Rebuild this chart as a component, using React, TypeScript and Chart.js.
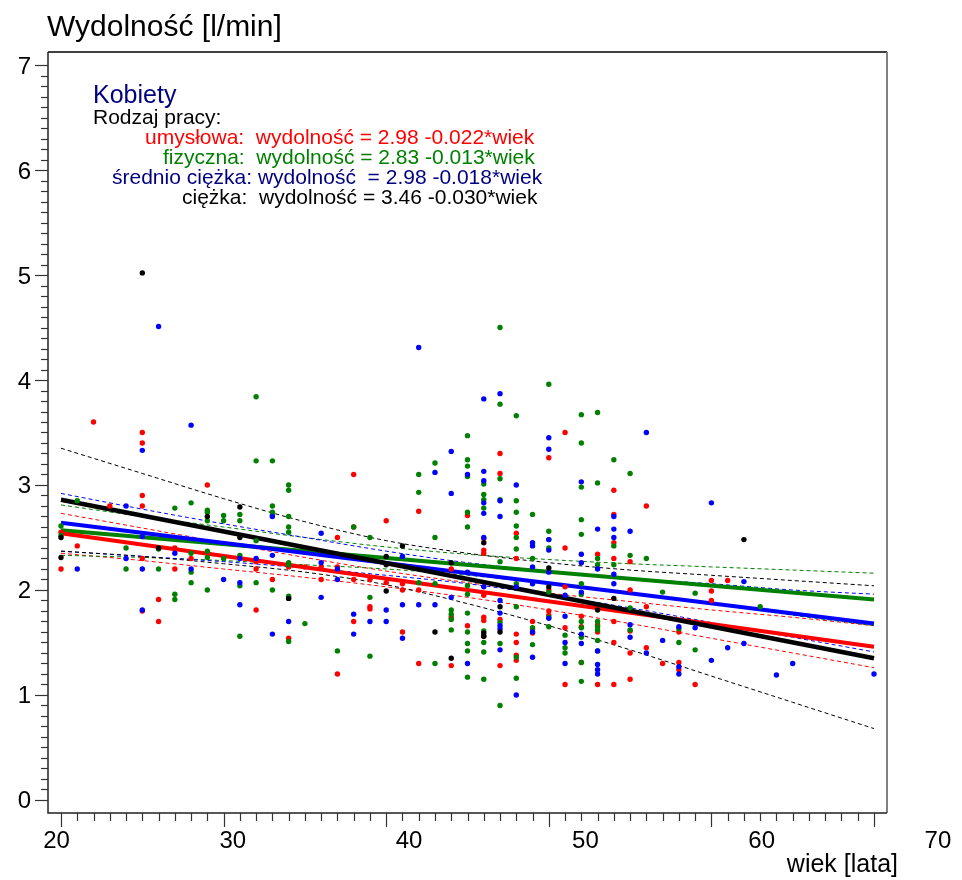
import { useEffect, useRef } from "react";
import { Chart, registerables } from "chart.js";

Chart.register(...registerables);

const FONT = "'Liberation Sans', Arial, Helvetica, sans-serif";

// ---------- data ----------
const X_TICKS = [20, 30, 40, 50, 60, 70];
const Y_TICKS = [0, 1, 2, 3, 4, 5, 6, 7];
const FIT_AGES = [20, 70];
const BAND_AGES = [20, 25, 30, 35, 40, 45, 50, 55, 60, 65, 70];

// [wiek, wydolność]
const umyslowaPts: [number, number][] = [
  [22, 3.6], [25, 3.5], [25, 3.4], [29, 3.0], [25, 2.9], [23, 2.8], [25, 2.8], [20, 2.55], [21, 2.42], [27, 2.4],
  [28, 2.3], [25, 2.3], [32, 2.27], [20, 2.2], [27, 2.2], [32, 2.2], [26, 1.91], [25, 1.8], [32, 1.81], [26, 1.7],
  [38, 3.1], [42, 2.75], [40, 2.66], [38, 2.6], [37, 2.5], [34, 2.22], [35, 2.22], [36, 2.22], [37, 2.22], [33, 2.1],
  [36, 2.1], [38, 2.1], [39, 2.1], [40, 2.07], [41, 2.06], [42, 2.0], [41, 2.0], [39, 1.84], [39, 1.82], [44, 1.74],
  [38, 1.7], [41, 1.6], [34, 1.54], [42, 1.3], [44, 1.28], [37, 1.2], [44, 2.2],
  [45, 2.71], [45, 1.66],
  [46, 2.49], [46, 2.38], [46, 2.35], [46, 1.95], [46, 1.74], [46, 1.71], [46, 1.56],
  [47, 3.3], [47, 3.11], [47, 1.72], [47, 1.28],
  [48, 2.54], [48, 2.3], [48, 1.58], [48, 1.5], [48, 1.38], [48, 1.33],
  [49, 1.7], [49, 1.63], [49, 1.59],
  [50, 3.26], [50, 2.0], [50, 1.8], [50, 1.76],
  [51, 3.5], [51, 2.4], [51, 2.03], [51, 1.64], [51, 1.1],
  [52, 1.75], [52, 1.65], [52, 1.31],
  [53, 2.34], [53, 1.67], [53, 1.6], [53, 1.1],
  [54, 2.95], [54, 2.72], [54, 2.45], [54, 2.3], [54, 1.7], [54, 1.5], [54, 1.1],
  [55, 2.27], [55, 2.0], [55, 1.61], [55, 1.4], [55, 1.15],
  [56, 2.8], [56, 1.84], [56, 1.45],
  [57, 1.3],
  [58, 1.6], [58, 1.31], [58, 1.24], [59, 1.1], [60, 2.09], [60, 1.99], [60, 1.9], [61, 2.09],
];

const fizycznaPts: [number, number][] = [
  [32, 3.84], [32, 3.23], [28, 2.83], [27, 2.78], [29, 2.76], [29, 2.74], [30, 2.71], [31, 2.72], [29, 2.66], [30, 2.66],
  [31, 2.66], [21, 2.85], [20, 2.61], [20, 2.52], [32, 2.47], [24, 2.4], [26, 2.39], [28, 2.35], [29, 2.37], [29, 2.31],
  [30, 2.3], [31, 2.33], [24, 2.2], [26, 2.2], [28, 2.17], [28, 2.07], [31, 2.04], [32, 2.07], [29, 2.0], [27, 1.96],
  [27, 1.91], [31, 1.56],
  [33, 3.23], [43, 3.21], [42, 3.1], [42, 2.93], [34, 3.0], [34, 2.95], [33, 2.8], [33, 2.74], [33, 2.71], [34, 2.7],
  [34, 2.6], [34, 2.55], [38, 2.6], [39, 2.5], [43, 2.5], [34, 2.26], [34, 2.24], [41, 2.32], [42, 2.07], [43, 2.06],
  [33, 2.0], [34, 1.94], [34, 1.92], [39, 1.93], [44, 1.81], [44, 1.77], [44, 1.72], [35, 1.68], [44, 1.62], [34, 1.51],
  [37, 1.42], [39, 1.37], [43, 1.3],
  [45, 3.47], [45, 3.24], [45, 3.18], [45, 3.08], [45, 2.74], [45, 2.6], [45, 2.04], [45, 1.96], [45, 1.78], [45, 1.6],
  [45, 1.49], [45, 1.42], [45, 1.17],
  [46, 3.01], [46, 2.91], [46, 2.86], [46, 2.78], [46, 1.61], [46, 1.5], [46, 1.41], [46, 1.15],
  [47, 4.5], [47, 3.77], [47, 3.06], [47, 2.86], [47, 2.27], [47, 1.69], [47, 1.49], [47, 0.9],
  [48, 3.66], [48, 2.85], [48, 2.74], [48, 2.61], [48, 2.5], [48, 2.39], [48, 2.06], [48, 1.84], [48, 1.36], [48, 1.16],
  [49, 2.72], [49, 2.3], [49, 1.64], [49, 1.48],
  [50, 3.96], [50, 2.56], [50, 2.48], [50, 2.4], [50, 1.98], [50, 1.74], [50, 1.65],
  [51, 1.57], [51, 1.45], [51, 1.4],
  [52, 3.67], [52, 3.4], [52, 2.98], [52, 2.67], [52, 2.53], [52, 2.06], [52, 1.96], [52, 1.7], [52, 1.64], [52, 1.55],
  [52, 1.31], [52, 1.13],
  [53, 3.69], [53, 3.02], [53, 2.3], [53, 2.24], [53, 1.7], [53, 1.65], [53, 1.62], [53, 1.52], [53, 1.42],
  [54, 3.24], [54, 2.42], [54, 2.24],
  [55, 3.11], [55, 2.33], [55, 1.83], [55, 1.62],
  [56, 2.3], [57, 1.98],
  [59, 1.97], [59, 1.43], [63, 1.84], [58, 1.63], [58, 1.5],
];

const srednioPts: [number, number][] = [
  [26, 4.51], [28, 3.57], [25, 3.33], [24, 2.8], [25, 2.51], [27, 2.35], [31, 2.3], [24, 2.3], [32, 2.3], [21, 2.2],
  [25, 2.2], [28, 2.2], [30, 2.1], [31, 2.07], [31, 1.86], [25, 1.81],
  [42, 4.31], [44, 3.32], [43, 3.12], [44, 2.92], [33, 2.7], [36, 2.54], [33, 2.33], [37, 2.2], [37, 2.1], [36, 1.93],
  [44, 1.93], [40, 1.81], [38, 1.77], [41, 1.86], [42, 1.86], [43, 1.86], [34, 1.7], [39, 1.7], [40, 1.7], [33, 1.58],
  [38, 1.58], [41, 1.54], [36, 2.26], [41, 2.32],
  [45, 3.1], [45, 2.17], [45, 1.3],
  [46, 3.82], [46, 3.13], [46, 3.04], [46, 2.83], [46, 2.73], [46, 2.5], [46, 2.03],
  [47, 3.87], [47, 2.85], [47, 2.7], [47, 1.9], [47, 1.78], [47, 1.66], [47, 1.63], [47, 1.43],
  [48, 3.0], [48, 2.03], [48, 1.0],
  [49, 2.45], [49, 2.42], [49, 2.22], [49, 2.06], [49, 1.6], [49, 1.36],
  [50, 3.45], [50, 3.34], [50, 2.48], [50, 2.38], [50, 2.17], [50, 1.73],
  [51, 1.95], [51, 1.75], [51, 1.5], [51, 1.3],
  [52, 3.03], [52, 2.34], [52, 2.26], [52, 1.98], [52, 1.58], [52, 1.49],
  [53, 2.58], [53, 2.2], [53, 1.42], [53, 1.29], [53, 1.24], [53, 1.2],
  [54, 2.7], [54, 2.58], [54, 2.5], [54, 2.15], [54, 2.06],
  [55, 2.56], [55, 1.67], [55, 1.55],
  [56, 3.5], [56, 1.4], [57, 1.52],
  [60, 2.83], [60, 1.33], [62, 2.08], [62, 1.49], [58, 1.65], [58, 1.27], [58, 1.2], [59, 1.64], [61, 1.45], [65, 1.3],
  [64, 1.19], [70, 1.2],
];

const ciezkaPts: [number, number][] = [
  [25, 5.02], [29, 2.7], [31, 2.79], [20, 2.5], [31, 2.5], [26, 2.4], [20, 2.31], [41, 2.42], [40, 1.99], [34, 1.92],
  [43, 1.6], [44, 1.35], [40, 2.32], [40, 2.24], [44, 2.26], [46, 2.45], [47, 1.84], [47, 1.6], [46, 1.59], [46, 1.56],
  [50, 2.21], [50, 2.03], [53, 1.81], [54, 1.92], [62, 2.48],
];

// regression lines at FIT_AGES
const umyslowaFit = [2.54, 1.46];
const fizycznaFit = [2.57, 1.91];
const srednioFit = [2.64, 1.68];
const ciezkaFit = [2.86, 1.35];

// confidence bands at BAND_AGES
const umyslowaUpper = [2.73, 2.59, 2.45, 2.31, 2.18, 2.07, 1.97, 1.89, 1.81, 1.74, 1.66];
const umyslowaLower = [2.35, 2.28, 2.2, 2.12, 2.03, 1.93, 1.81, 1.68, 1.54, 1.4, 1.26];
const fizycznaUpper = [2.81, 2.7, 2.6, 2.5, 2.41, 2.34, 2.29, 2.25, 2.22, 2.19, 2.16];
const fizycznaLower = [2.33, 2.31, 2.28, 2.24, 2.2, 2.14, 2.06, 1.97, 1.87, 1.76, 1.66];
const srednioUpper = [2.92, 2.77, 2.63, 2.5, 2.37, 2.26, 2.18, 2.11, 2.06, 2.0, 1.96];
const srednioLower = [2.37, 2.32, 2.27, 2.21, 2.14, 2.06, 1.95, 1.83, 1.69, 1.55, 1.41];
const ciezkaUpper = [3.35, 3.11, 2.87, 2.65, 2.47, 2.35, 2.26, 2.19, 2.14, 2.09, 2.04];
const ciezkaLower = [2.37, 2.32, 2.25, 2.17, 2.05, 1.87, 1.66, 1.43, 1.18, 0.93, 0.68];

const TITLE = "Wydolność [l/min]";
const X_TITLE = "wiek [lata]";
const HEADER = "Kobiety";
const SUBHEADER = "Rodzaj pracy:";
const EQUATIONS = [
  "umysłowa:  wydolność = 2.98 -0.022*wiek",
  "fizyczna:  wydolność = 2.83 -0.013*wiek",
  "średnio ciężka: wydolność  = 2.98 -0.018*wiek",
  "ciężka:  wydolność = 3.46 -0.030*wiek",
];

const RED = "#ff0000";
const GREEN = "#008000";
const BLUE = "#0000ff";
const BLACK = "#000000";
const NAVY = "#000080";

// ---------- helpers ----------
const pts = (arr: [number, number][]) => arr.map(([x, y]) => ({ x, y }));
const series = (ages: number[], vals: number[]) => ages.map((x, i) => ({ x, y: vals[i] }));

const scatter = (label: string, arr: [number, number][], color: string) => ({
  type: "scatter" as const,
  label,
  data: pts(arr),
  backgroundColor: color,
  borderWidth: 0,
  pointRadius: 2.7,
  pointHoverRadius: 2.7,
  showLine: false,
});

const fitLine = (label: string, vals: number[], color: string, width: number) => ({
  type: "line" as const,
  label,
  data: series(FIT_AGES, vals),
  borderColor: color,
  borderWidth: width,
  pointRadius: 0,
  fill: false,
});

const band = (label: string, vals: number[], color: string) => ({
  type: "line" as const,
  label,
  data: series(BAND_AGES, vals),
  borderColor: color,
  borderWidth: 1,
  borderDash: [4, 3],
  pointRadius: 0,
  fill: false,
  cubicInterpolationMode: "monotone" as const,
});

const framePlugin = {
  id: "frame",
  afterDraw(chart: any) {
    const { ctx, chartArea: a, scales } = chart;
    const xs = scales.x;
    const ys = scales.y;
    const xl = scales.xLab;
    ctx.save();

    // frame
    ctx.lineCap = "butt";
    ctx.strokeStyle = "#000";
    ctx.lineWidth = 1.5;
    ctx.beginPath();
    ctx.moveTo(a.left, a.top);
    ctx.lineTo(a.right, a.top);
    ctx.stroke();
    ctx.strokeStyle = "#808080";
    ctx.lineWidth = 2;
    ctx.beginPath();
    ctx.moveTo(a.right, a.top);
    ctx.lineTo(a.right, a.bottom);
    ctx.stroke();

    ctx.strokeStyle = "#222";
    ctx.lineWidth = 1.5;
    ctx.beginPath();
    ctx.moveTo(a.left, a.top);
    ctx.lineTo(a.left, a.bottom);
    ctx.lineTo(a.right, a.bottom);
    ctx.stroke();

    // y ticks
    ctx.lineWidth = 1.2;
    ctx.strokeStyle = "#333";
    const yMin = Y_TICKS[0];
    const yMax = Y_TICKS[Y_TICKS.length - 1];
    for (let i = yMin * 10; i <= yMax * 10; i++) {
      const py = Math.round(ys.getPixelForValue(i / 10)) + 0.5;
      const len = i % 10 === 0 ? 13 : 7;
      ctx.beginPath();
      ctx.moveTo(a.left - len, py);
      ctx.lineTo(a.left, py);
      ctx.stroke();
    }
    // x ticks
    const xMin = X_TICKS[0];
    const xMax = X_TICKS[X_TICKS.length - 1];
    for (let v = xMin; v <= xMax; v++) {
      const px = Math.round(xs.getPixelForValue(v)) + 0.5;
      const len = v % 10 === 0 ? 14 : 8;
      ctx.beginPath();
      ctx.moveTo(px, a.bottom);
      ctx.lineTo(px, a.bottom + len);
      ctx.stroke();
    }

    // tick labels
    ctx.fillStyle = "#000";
    ctx.font = `24px ${FONT}`;
    ctx.textAlign = "right";
    ctx.textBaseline = "alphabetic";
    for (const t of Y_TICKS) {
      ctx.fillText(String(t), 31, ys.getPixelForValue(t) + 8.5);
    }
    ctx.textAlign = "center";
    for (const t of X_TICKS) {
      ctx.fillText(String(t), xl.getPixelForValue(t), a.bottom + 35);
    }

    // titles
    ctx.font = `30px ${FONT}`;
    ctx.textAlign = "left";
    ctx.fillText(TITLE, 47, 36);
    ctx.font = `25px ${FONT}`;
    ctx.textAlign = "right";
    ctx.fillText(X_TITLE, 898, 872);

    // annotation
    ctx.textAlign = "left";
    ctx.font = `25px ${FONT}`;
    ctx.fillStyle = NAVY;
    ctx.fillText(HEADER, 93, 103);
    ctx.font = `21px ${FONT}`;
    ctx.fillStyle = "#000";
    ctx.fillText(SUBHEADER, 93, 124);
    const eqPos = [
      [145, 144, RED],
      [163, 164, GREEN],
      [112, 184, NAVY],
      [182, 204, BLACK],
    ];
    EQUATIONS.forEach((t, i) => {
      const [x, y, c] = eqPos[i];
      ctx.fillStyle = c as string;
      ctx.fillText(t, x as number, y as number);
    });

    ctx.restore();
  },
};

export default function App() {
  const ref = useRef<HTMLCanvasElement | null>(null);

  useEffect(() => {
    if (!ref.current) return;
    const chart = new Chart(ref.current, {
      type: "scatter",
      data: {
        datasets: [
          scatter("ciężka", ciezkaPts, BLACK),
          scatter("średnio ciężka", srednioPts, BLUE),
          scatter("fizyczna", fizycznaPts, GREEN),
          scatter("umysłowa", umyslowaPts, RED),
          fitLine("ciężka fit", ciezkaFit, BLACK, 4.5),
          fitLine("średnio ciężka fit", srednioFit, BLUE, 4),
          fitLine("umysłowa fit", umyslowaFit, RED, 4),
          fitLine("fizyczna fit", fizycznaFit, GREEN, 4),
          band("ciężka upper", ciezkaUpper, BLACK),
          band("ciężka lower", ciezkaLower, BLACK),
          band("średnio upper", srednioUpper, BLUE),
          band("średnio lower", srednioLower, BLUE),
          band("fizyczna upper", fizycznaUpper, GREEN),
          band("fizyczna lower", fizycznaLower, GREEN),
          band("umysłowa upper", umyslowaUpper, RED),
          band("umysłowa lower", umyslowaLower, RED),
        ] as any,
      },
      options: {
        animation: false,
        responsive: false,
        devicePixelRatio: 1,
        layout: { padding: { left: 48, top: 52, right: 75, bottom: 67 } },
        plugins: { legend: { display: false }, tooltip: { enabled: false } },
        events: [],
        scales: {
          x: { type: "linear", min: 19.2, max: 70.8, display: false },
          xLab: { type: "linear", axis: "x", min: 19.512, max: 67.112, display: false },
          y: { type: "linear", min: -0.124, max: 7.124, display: false },
        } as any,
      },
      plugins: [framePlugin],
    });
    return () => chart.destroy();
  }, []);

  return (
    <div style={{ position: "absolute", left: 0, top: 0, width: 962, height: 880, background: "#fff" }}>
      <canvas ref={ref} width={962} height={880} style={{ display: "block", width: 962, height: 880 }} />
    </div>
  );
}
